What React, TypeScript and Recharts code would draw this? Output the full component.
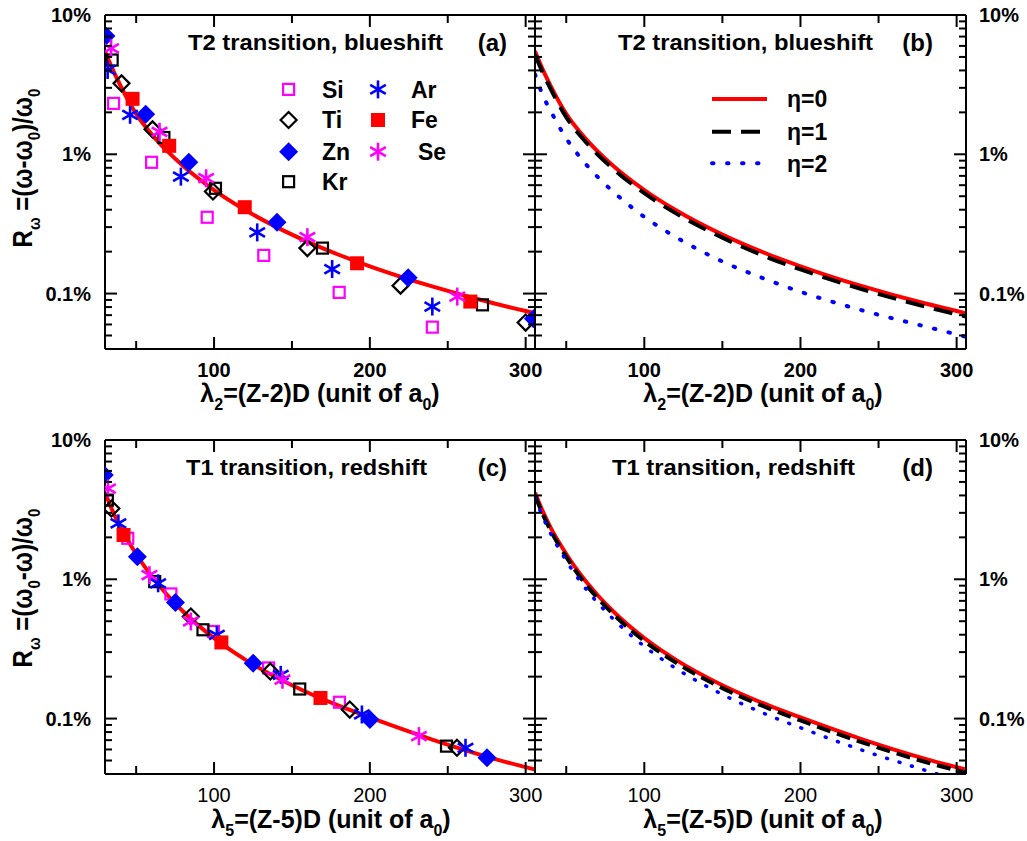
import React from 'react';
import { ComposedChart, Line, Scatter, XAxis, YAxis } from 'recharts';

const FONT = '"Liberation Sans", Arial, Helvetica, sans-serif';
const W = 1027;
const H = 841;

// ---- axes ----
const X_DOMAIN: [number, number] = [30, 306];
const Y_DOMAIN: [number, number] = [0.04, 10];
const xMajorTicks = [100, 200, 300];
const xMinorTicks = [50, 150, 250];
const yMajorTicks = [0.1, 1, 10];
const yMinorTicks = [0.04, 0.05, 0.06, 0.07, 0.08, 0.09, 0.2, 0.3, 0.4, 0.5, 0.6, 0.7, 0.8, 0.9, 2, 3, 4, 5, 6, 7, 8, 9];
const yTickLabels: Record<string, string> = { '0.1': '0.1%', '1': '1%', '10': '10%' };

// ---- panel (a): T2 transition, blueshift, measured points [lambda2, R %] ----
const siT2 = [[35.5, 2.32], [59.9, 0.876], [95.6, 0.353], [131.9, 0.188], [180.3, 0.102], [240.1, 0.0574]];
const tiT2 = [[40.6, 3.23], [60.5, 1.51], [99.3, 0.54], [159.9, 0.212], [219.7, 0.114], [300, 0.0619]];
const znT2 = [[30.6, 7.07], [56.1, 1.94], [83.8, 0.876], [140.4, 0.325], [224.6, 0.13], [305, 0.066]];
const krT2 = [[34.6, 4.75], [67.8, 1.32], [100.9, 0.57], [169.6, 0.212], [272.3, 0.083]];
const arT2 = [[31.7, 4.03], [46.1, 1.92], [78.7, 0.691], [127.7, 0.275], [175.8, 0.15], [240.1, 0.0807]];
const feT2 = [[47.7, 2.5], [71.2, 1.15], [119.7, 0.417], [191.8, 0.165], [264.5, 0.0876]];
const seT2 = [[33.9, 5.77], [65, 1.45], [94.9, 0.673], [159.9, 0.254], [256.1, 0.0952]];

// ---- panel (c): T1 transition, redshift ----
const siT1 = [[44.6, 1.97], [72.3, 0.785], [99.6, 0.422], [135, 0.231], [180.5, 0.131]];
const tiT1 = [[34.1, 3.22], [85.1, 0.541], [136.1, 0.218], [187.1, 0.116], [255.9, 0.0617]];
const znT1 = [[29.5, 5.6], [50.8, 1.45], [75.2, 0.681], [125.1, 0.25], [200, 0.0984], [275.2, 0.0523]];
const krT1 = [[31.5, 3.7], [61.9, 0.962], [92.9, 0.434], [155, 0.163], [249.2, 0.0634]];
const arT1 = [[38.6, 2.52], [64.1, 0.936], [101.8, 0.399], [142.8, 0.206], [194.9, 0.107], [261.4, 0.0617]];
const feT1 = [[41.9, 2.08], [104.7, 0.352], [168.3, 0.1406]];
const seT1 = [[31.9, 4.48], [58.5, 1.07], [85.1, 0.498], [143.9, 0.19], [231.5, 0.0748]];

// ---- model curves ----
const curveX = [30, 35, 40, 50, 60, 70, 80, 100, 120, 150, 180, 200, 240, 280, 306];
const t2Eta0 = [5.5, 4.05, 3.1, 1.95, 1.39, 1.053, 0.828, 0.554, 0.398, 0.265, 0.19, 0.157, 0.1125, 0.0848, 0.0723];
const t2Eta1 = [5.2, 3.85, 2.95, 1.85, 1.32, 1.0, 0.787, 0.526, 0.378, 0.252, 0.18, 0.149, 0.107, 0.0806, 0.0685];
const t2Eta2 = [3.75, 2.65, 2.05, 1.3, 0.92, 0.69, 0.54, 0.355, 0.255, 0.17, 0.124, 0.103, 0.0755, 0.058, 0.049];
const t1Eta0 = [4.18, 3.07, 2.35, 1.52, 1.05, 0.771, 0.59, 0.378, 0.265, 0.1735, 0.1237, 0.1018, 0.0707, 0.0514, 0.043];
const t1Eta1 = [4.0, 2.93, 2.24, 1.45, 1.0, 0.735, 0.563, 0.361, 0.253, 0.1655, 0.118, 0.097, 0.0672, 0.0488, 0.0408];
const t1Eta2 = [3.85, 2.8, 2.13, 1.36, 0.93, 0.68, 0.52, 0.33, 0.23, 0.149, 0.105, 0.086, 0.059, 0.0425, 0.0345];

const pts = (a: number[][]) => a.map(([x, y]) => ({ x, y }));
const curve = (ys: number[]) => curveX.map((x, i) => ({ x, y: ys[i] }));

const RED = '#ff0000';
const BLUE = '#0000ff';
const MAGENTA = '#ff00ff';
const BLACK = '#000000';

type Rect = { x: number; y: number; w: number; h: number };
const PA: Rect = { x: 105, y: 15, w: 430, h: 334 };
const PB: Rect = { x: 535, y: 15, w: 431, h: 334 };
const PC: Rect = { x: 105, y: 440, w: 430, h: 334 };
const PD: Rect = { x: 535, y: 440, w: 431, h: 334 };

function Marker({ kind, color, cx, cy }: { kind: string; color: string; cx: number; cy: number }) {
  if (cx == null || cy == null || isNaN(cx) || isNaN(cy)) return <g />;
  switch (kind) {
    case 'openSquare':
      return <rect x={cx - 5.5} y={cy - 5.5} width={11} height={11} fill="none" stroke={color} strokeWidth={2.2} />;
    case 'filledSquare':
      return <rect x={cx - 7} y={cy - 7} width={14} height={14} fill={color} />;
    case 'openDiamond':
      return (
        <polygon
          points={`${cx},${cy - 8} ${cx + 8},${cy} ${cx},${cy + 8} ${cx - 8},${cy}`}
          fill="none"
          stroke={color}
          strokeWidth={2.2}
        />
      );
    case 'filledDiamond':
      return <polygon points={`${cx},${cy - 9.5} ${cx + 9.5},${cy} ${cx},${cy + 9.5} ${cx - 9.5},${cy}`} fill={color} />;
    case 'asterisk': {
      const r = 9;
      const dx = r * Math.cos(Math.PI / 6);
      const dy = r * Math.sin(Math.PI / 6);
      return (
        <g stroke={color} strokeWidth={2.6}>
          <line x1={cx} y1={cy - r} x2={cx} y2={cy + r} />
          <line x1={cx - dx} y1={cy - dy} x2={cx + dx} y2={cy + dy} />
          <line x1={cx - dx} y1={cy + dy} x2={cx + dx} y2={cy - dy} />
        </g>
      );
    }
    default:
      return <g />;
  }
}

const shapeOf = (kind: string, color: string) => (p: any) => <Marker kind={kind} color={color} cx={p.cx} cy={p.cy} />;

const elements = [
  { name: 'Si', kind: 'openSquare', color: MAGENTA },
  { name: 'Ti', kind: 'openDiamond', color: BLACK },
  { name: 'Zn', kind: 'filledDiamond', color: BLUE },
  { name: 'Kr', kind: 'openSquare', color: BLACK },
  { name: 'Ar', kind: 'asterisk', color: BLUE },
  { name: 'Fe', kind: 'filledSquare', color: RED },
  { name: 'Se', kind: 'asterisk', color: MAGENTA },
];

const t2Sets: Record<string, number[][]> = { Si: siT2, Ti: tiT2, Zn: znT2, Kr: krT2, Ar: arT2, Fe: feT2, Se: seT2 };
const t1Sets: Record<string, number[][]> = { Si: siT1, Ti: tiT1, Zn: znT1, Kr: krT1, Ar: arT1, Fe: feT1, Se: seT1 };

const makeXTick = (rect: Rect, bold: boolean) => (props: any) => {
  const v = props.payload?.value;
  const x = props.payload?.coordinate ?? props.x;
  const major = xMajorTicks.includes(v);
  const len = major ? 12 : 8;
  const top = rect.y;
  const bot = rect.y + rect.h;
  return (
    <g>
      <line x1={x} x2={x} y1={bot} y2={bot - len} stroke="#000" strokeWidth={2} />
      <line x1={x} x2={x} y1={top} y2={top + len} stroke="#000" strokeWidth={2} />
      {major && (
        <text x={x} y={bot + 28} textAnchor="middle" fontFamily={FONT} fontSize={20} fontWeight={bold ? 'bold' : 'normal'} fill="#000">
          {v}
        </text>
      )}
    </g>
  );
};

const makeYTick = (rect: Rect, side: 'left' | 'right') => (props: any) => {
  const v = props.payload?.value;
  const y = props.payload?.coordinate ?? props.y;
  const major = yMajorTicks.includes(v);
  const len = major ? 12 : 7;
  const l = rect.x;
  const r = rect.x + rect.w;
  const label = yTickLabels[String(v)];
  return (
    <g>
      <line x1={l} x2={l + len} y1={y} y2={y} stroke="#000" strokeWidth={2} />
      <line x1={r} x2={r - len} y1={y} y2={y} stroke="#000" strokeWidth={2} />
      {major && label && (
        <text
          x={side === 'left' ? l - 14 : r + 13}
          y={y}
          dy="0.36em"
          textAnchor={side === 'left' ? 'end' : 'start'}
          fontFamily={FONT}
          fontSize={20}
          fontWeight="bold"
          fill="#000"
        >
          {label}
        </text>
      )}
    </g>
  );
};

const axisLine = { stroke: '#000', strokeWidth: 2 };
const AX = 1; // thickness reserved for each axis

function Panel({
  rect,
  sets,
  curves,
  xBold,
  side,
}: {
  rect: Rect;
  sets?: Record<string, number[][]>;
  curves: { data: number[]; color: string; width: number; dash?: string; cap?: string }[];
  xBold: boolean;
  side: 'left' | 'right';
}) {
  const margin = {
    top: rect.y - AX,
    left: rect.x - AX,
    right: W - rect.x - rect.w - AX,
    bottom: H - rect.y - rect.h - AX,
  };
  const allY = [...yMinorTicks, ...yMajorTicks].sort((a, b) => a - b);
  const allX = [...xMinorTicks, ...xMajorTicks].sort((a, b) => a - b);
  return (
    <div style={{ position: 'absolute', left: 0, top: 0 }}>
      <ComposedChart width={W} height={H} margin={margin}>
        <XAxis
          xAxisId="b"
          dataKey="x"
          type="number"
          domain={X_DOMAIN}
          allowDataOverflow
          ticks={allX}
          interval={0}
          height={AX}
          stroke="#000"
          tickLine={false}
          axisLine={axisLine}
          tick={makeXTick(rect, xBold)}
        />
        <XAxis
          xAxisId="t"
          orientation="top"
          type="number"
          domain={X_DOMAIN}
          allowDataOverflow
          height={AX}
          stroke="#000"
          tick={false}
          tickLine={false}
          axisLine={axisLine}
        />
        <YAxis
          yAxisId="l"
          dataKey="y"
          type="number"
          scale="log"
          domain={Y_DOMAIN}
          allowDataOverflow
          ticks={allY}
          interval={0}
          width={AX}
          stroke="#000"
          tickLine={false}
          axisLine={axisLine}
          tick={makeYTick(rect, side)}
        />
        <YAxis
          yAxisId="r"
          orientation="right"
          type="number"
          scale="log"
          domain={Y_DOMAIN}
          allowDataOverflow
          width={AX}
          stroke="#000"
          tick={false}
          tickLine={false}
          axisLine={axisLine}
        />
        {sets &&
          elements.map((el) => (
            <Scatter
              key={el.name}
              xAxisId="b"
              yAxisId="l"
              data={pts(sets[el.name])}
              dataKey="y"
              shape={shapeOf(el.kind, el.color)}
              isAnimationActive={false}
            />
          ))}
        {curves.map((c, i) => (
          <Line
            key={i}
            xAxisId="b"
            yAxisId="l"
            data={curve(c.data)}
            dataKey="y"
            type="monotone"
            stroke={c.color}
            strokeWidth={c.width}
            strokeDasharray={c.dash}
            strokeLinecap={c.cap as any}
            dot={false}
            activeDot={false}
            isAnimationActive={false}
          />
        ))}
      </ComposedChart>
    </div>
  );
}

function XTitle({ cx, y, sub, mid }: { cx: number; y: number; sub: string; mid: string }) {
  return (
    <text x={cx} y={y} textAnchor="middle" fontFamily={FONT} fontSize={25} fontWeight="bold" fill="#000">
      λ
      <tspan fontSize={16} dy={8}>
        {sub}
      </tspan>
      <tspan dy={-8}>{mid}</tspan>
      <tspan fontSize={16} dy={8}>
        0
      </tspan>
      <tspan dy={-8}>)</tspan>
    </text>
  );
}

function YTitle({ x, cy, variant }: { x: number; cy: number; variant: 'blue' | 'red' }) {
  return (
    <g transform={`translate(${x} ${cy}) rotate(-90) scale(1 1.12)`}>
      <text x={0} y={0} textAnchor="middle" fontFamily={FONT} fontSize={24} fontWeight="bold" fill="#000">
        R
        <tspan fontSize={15} dy={7}>
          ω
        </tspan>
        {variant === 'blue' ? (
          <>
            <tspan dy={-7}> =(ω-ω</tspan>
            <tspan fontSize={15} dy={7}>
              0
            </tspan>
            <tspan dy={-7}>)/ω</tspan>
            <tspan fontSize={15} dy={7}>
              0
            </tspan>
          </>
        ) : (
          <>
            <tspan dy={-7}> =(ω</tspan>
            <tspan fontSize={15} dy={7}>
              0
            </tspan>
            <tspan dy={-7}>-ω)/ω</tspan>
            <tspan fontSize={15} dy={7}>
              0
            </tspan>
          </>
        )}
      </text>
    </g>
  );
}

const txt = { fontFamily: FONT, fontWeight: 'bold' as const, fill: '#000' };

export default function App() {
  const etaLegend = [
    { label: 'η=0', color: RED, width: 4, dash: undefined as string | undefined, cap: 'butt' },
    { label: 'η=1', color: BLACK, width: 4, dash: '19 10', cap: 'butt' },
    { label: 'η=2', color: BLUE, width: 4, dash: '1.5 13.5', cap: 'round' },
  ];
  const legendA = [
    { el: elements[0], x: 288.6, y: 89.4, tx: 322 },
    { el: elements[1], x: 288.6, y: 120, tx: 322 },
    { el: elements[2], x: 288.6, y: 151.7, tx: 322 },
    { el: elements[3], x: 288.6, y: 181.7, tx: 322 },
    { el: elements[4], x: 378, y: 89.4, tx: 411 },
    { el: elements[5], x: 378, y: 120, tx: 411 },
    { el: elements[6], x: 378, y: 151.7, tx: 418 },
  ];
  return (
    <div style={{ position: 'absolute', left: 0, top: 0, width: W, height: H, background: '#fff' }}>
      <Panel rect={PA} sets={t2Sets} curves={[{ data: t2Eta0, color: RED, width: 4 }]} xBold={true} side="left" />
      <Panel
        rect={PB}
        curves={[
          { data: t2Eta0, color: RED, width: 4 },
          { data: t2Eta1, color: BLACK, width: 4, dash: '19 10' },
          { data: t2Eta2, color: BLUE, width: 4, dash: '1.5 13.5', cap: 'round' },
        ]}
        xBold={true}
        side="right"
      />
      <Panel rect={PC} sets={t1Sets} curves={[{ data: t1Eta0, color: RED, width: 4 }]} xBold={false} side="left" />
      <Panel
        rect={PD}
        curves={[
          { data: t1Eta0, color: RED, width: 4 },
          { data: t1Eta1, color: BLACK, width: 4, dash: '14 7' },
          { data: t1Eta2, color: BLUE, width: 3.5, dash: '1 12', cap: 'round' },
        ]}
        xBold={false}
        side="right"
      />
      <svg width={W} height={H} style={{ position: 'absolute', left: 0, top: 0, pointerEvents: 'none' }}>
        {/* panel titles */}
        <text x={188} y={50} fontSize={22} textLength={255} lengthAdjust="spacingAndGlyphs" {...txt}>T2 transition, blueshift</text>
        <text x={507} y={51} fontSize={24} textAnchor="end" {...txt}>(a)</text>
        <text x={618} y={50} fontSize={22} textLength={255} lengthAdjust="spacingAndGlyphs" {...txt}>T2 transition, blueshift</text>
        <text x={933} y={51} fontSize={24} textAnchor="end" {...txt}>(b)</text>
        <text x={186} y={475} fontSize={22} textLength={241} lengthAdjust="spacingAndGlyphs" {...txt}>T1 transition, redshift</text>
        <text x={507} y={476} fontSize={24} textAnchor="end" {...txt}>(c)</text>
        <text x={612} y={475} fontSize={22} textLength={243} lengthAdjust="spacingAndGlyphs" {...txt}>T1 transition, redshift</text>
        <text x={933} y={476} fontSize={24} textAnchor="end" {...txt}>(d)</text>

        {/* axis titles */}
        <XTitle cx={320} y={402} sub="2" mid="=(Z-2)D (unit of a" />
        <XTitle cx={763} y={402} sub="2" mid="=(Z-2)D (unit of a" />
        <XTitle cx={331} y={828} sub="5" mid="=(Z-5)D (unit of a" />
        <XTitle cx={763} y={828} sub="5" mid="=(Z-5)D (unit of a" />
        <YTitle x={32} cy={168} variant="blue" />
        <YTitle x={32} cy={588} variant="red" />

        {/* legend of panel (a) */}
        {legendA.map((l) => (
          <g key={l.el.name}>
            <Marker kind={l.el.kind} color={l.el.color} cx={l.x} cy={l.y} />
            <text x={l.tx} y={l.y} dy="0.36em" fontSize={23} {...txt}>
              {l.el.name}
            </text>
          </g>
        ))}

        {/* legend of panel (b) */}
        {etaLegend.map((l, i) => {
          const y = [99, 131.7, 163.3][i];
          return (
            <g key={l.label}>
              <line
                x1={712}
                x2={767}
                y1={y}
                y2={y}
                stroke={l.color}
                strokeWidth={l.width}
                strokeDasharray={l.dash}
                strokeLinecap={l.cap as any}
              />
              <text x={787} y={y} dy="0.36em" fontSize={23} {...txt}>
                {l.label}
              </text>
            </g>
          );
        })}
      </svg>
    </div>
  );
}
